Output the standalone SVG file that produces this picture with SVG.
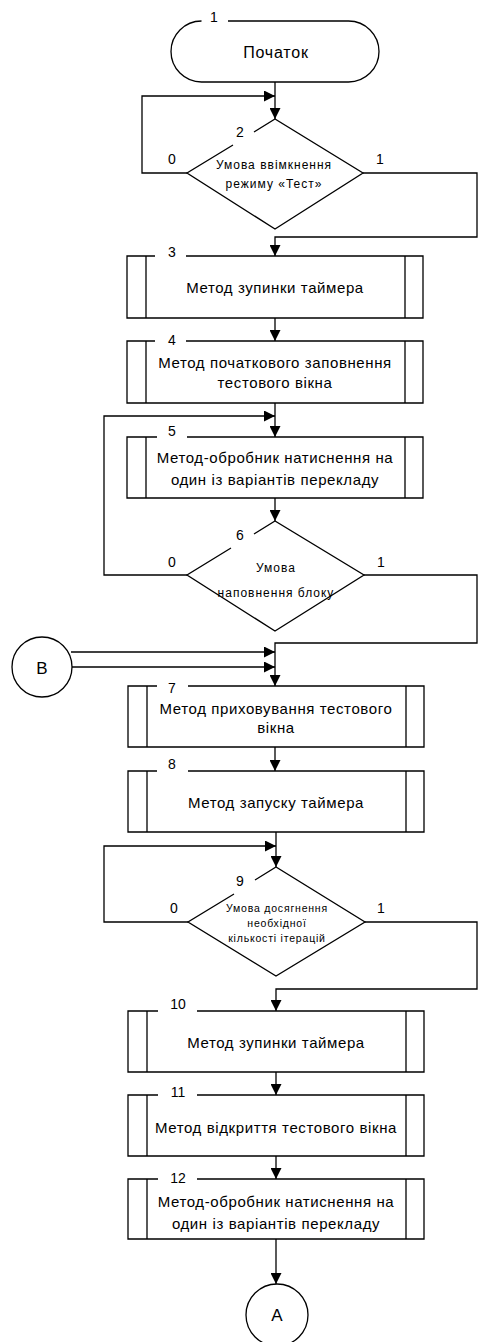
<svg xmlns="http://www.w3.org/2000/svg" width="479" height="1342" viewBox="0 0 479 1342">
<style>
.s{fill:none;stroke:#000;stroke-width:1.3}
.c{fill:#fff;stroke:#000;stroke-width:1.3}
.a{fill:none;stroke:#000;stroke-width:1.3;marker-end:url(#ah)}
text{font-family:"Liberation Sans",Arial,sans-serif;fill:#000}
.t{font-size:15px;text-anchor:middle;letter-spacing:0.6px}
.n{font-size:14px;text-anchor:middle}
.d{font-size:12px;text-anchor:middle;letter-spacing:1px}
.d2{font-size:10.5px;text-anchor:middle;letter-spacing:0.8px}
.k{font-size:17px;text-anchor:middle}
</style>
<defs>
<marker id="ah" markerUnits="userSpaceOnUse" markerWidth="11" markerHeight="11" refX="11" refY="5.5" orient="auto">
<path d="M0,0 L11,5.5 L0,11 z" fill="#000"/>
</marker>
</defs>
<rect width="479" height="1342" fill="#fff"/>
<g id="connectors">
<path class="a" d="M275,82 V119"/>
<path class="a" d="M187,173 H142 V96 H275"/>
<path class="a" d="M363,173 H477 V237 H275 V256"/>
<path class="a" d="M275,318 V341"/>
<path class="a" d="M275,403 V437"/>
<path class="a" d="M187,575 H104 V416 H275"/>
<path class="a" d="M275,498 V521"/>
<path class="a" d="M364,575 H477 V643 H275 V686"/>
<path class="a" d="M71,652 H275"/>
<path class="a" d="M72,667 H275"/>
<path class="a" d="M275,747 V771"/>
<path class="a" d="M276,832 V867"/>
<path class="a" d="M188,922 H104 V846 H276"/>
<path class="a" d="M365,922 H477 V989 H276 V1011"/>
<path class="a" d="M276,1072 V1095"/>
<path class="a" d="M276,1156 V1179"/>
<path class="a" d="M276,1239 V1284"/>
</g>
<g id="n1">
<path class="s" d="M228,21 H348.5 A30.5,30.5 0 0 1 348.5,82 H201.5 A30.5,30.5 0 0 1 201.5,21"/>
<text class="n" x="214" y="22">1</text>
<text x="276" y="58.3" font-size="16" letter-spacing="0.8" text-anchor="middle">Початок</text>
</g>
<g id="n2">
<path class="s" d="M254,132 L275,119 L363,173 L275,229 L187,173 L233,145"/>
<text class="n" x="240" y="137">2</text>
<text class="n" x="172" y="164">0</text>
<text class="n" x="380" y="164">1</text>
<text class="d" x="274" y="169.3">Умова ввімкнення</text>
<text class="d" x="274" y="187.7">режиму «Тест»</text>
</g>
<g id="n3">
<path class="s" d="M155,256 H127 V318 H423 V256 H186 M146,256 V318 M405,256 V318"/>
<text class="n" x="172" y="257">3</text>
<text class="t" x="275" y="293.3">Метод зупинки таймера</text>
</g>
<g id="n4">
<path class="s" d="M155,341 H127 V403 H423 V341 H186 M146,341 V403 M405,341 V403"/>
<text class="n" x="172" y="345">4</text>
<text class="t" x="275" y="368.3">Метод початкового заповнення</text>
<text class="t" x="275" y="387.7">тестового вікна</text>
</g>
<g id="n5">
<path class="s" d="M157,437 H127 V498 H423 V437 H187 M146,437 V498 M405,437 V498"/>
<text class="n" x="172" y="436">5</text>
<text class="t" x="275" y="463.3">Метод-обробник натиснення на</text>
<text class="t" x="275" y="485">один із варіантів перекладу</text>
</g>
<g id="n6">
<path class="s" d="M254,534 L275,521 L364,575 L275,631 L187,575 L231,548"/>
<text class="n" x="240" y="540">6</text>
<text class="n" x="172" y="567">0</text>
<text class="n" x="381" y="567">1</text>
<text class="d" x="276" y="571.7">Умова</text>
<text class="d" x="276" y="597.3">наповнення блоку</text>
</g>
<g id="nB">
<circle class="c" cx="42" cy="667" r="30"/>
<text class="k" x="42" y="674">B</text>
</g>
<g id="n7">
<path class="s" d="M157,686 H128 V747 H424 V686 H188 M147,686 V747 M406,686 V747"/>
<text class="n" x="172" y="693">7</text>
<text class="t" x="276" y="714.3">Метод приховування тестового</text>
<text class="t" x="276" y="733.3">вікна</text>
</g>
<g id="n8">
<path class="s" d="M157,771 H128 V832 H424 V771 H188 M147,771 V832 M406,771 V832"/>
<text class="n" x="172" y="769">8</text>
<text class="t" x="276" y="808.3">Метод запуску таймера</text>
</g>
<g id="n9">
<path class="s" d="M255,880 L276,867 L365,922 L276,976 L188,922 L234,894"/>
<text class="n" x="240" y="886">9</text>
<text class="n" x="174" y="913">0</text>
<text class="n" x="381" y="913">1</text>
<text class="d2" x="277" y="912.3">Умова досягнення</text>
<text class="d2" x="277" y="926.7">необхідної</text>
<text class="d2" x="277" y="941.7">кількості ітерацій</text>
</g>
<g id="n10">
<path class="s" d="M158,1011 H128 V1072 H424 V1011 H197 M147,1011 V1072 M406,1011 V1072"/>
<text class="n" x="178" y="1009">10</text>
<text class="t" x="276" y="1048.3">Метод зупинки таймера</text>
</g>
<g id="n11">
<path class="s" d="M158,1095 H128 V1156 H424 V1095 H197 M147,1095 V1156 M406,1095 V1156"/>
<text class="n" x="178" y="1097">11</text>
<text class="t" x="276" y="1132.7">Метод відкриття тестового вікна</text>
</g>
<g id="n12">
<path class="s" d="M158,1179 H128 V1239 H424 V1179 H197 M147,1179 V1239 M406,1179 V1239"/>
<text class="n" x="178" y="1183">12</text>
<text class="t" x="276" y="1206.7">Метод-обробник натиснення на</text>
<text class="t" x="276" y="1229.3">один із варіантів перекладу</text>
</g>
<g id="nA">
<circle class="c" cx="277" cy="1315" r="31"/>
<text class="k" x="277" y="1321">A</text>
</g>
</svg>
